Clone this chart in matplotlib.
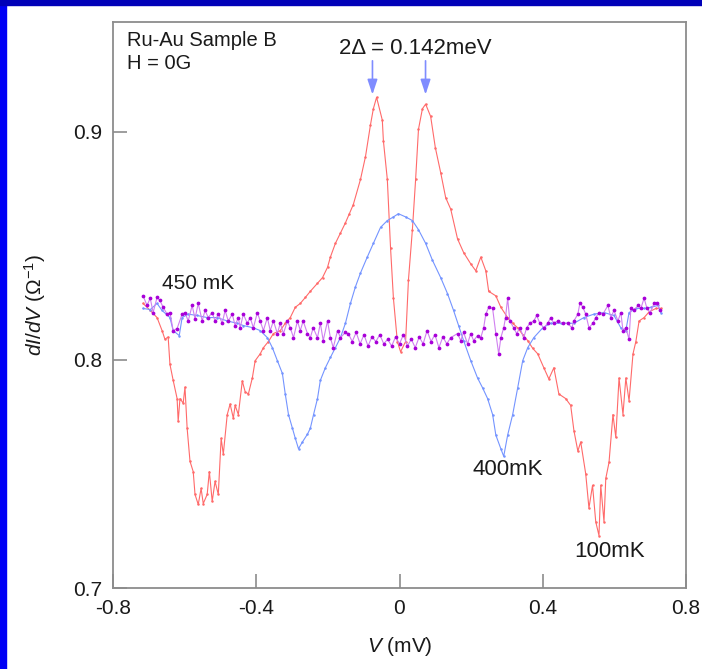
import matplotlib
matplotlib.use('Agg')
import matplotlib.pyplot as plt
from matplotlib.patches import Rectangle

plt.rcParams['font.family'] = ['Liberation Sans', 'DejaVu Sans']
plt.rcParams['mathtext.fontset'] = 'custom'
plt.rcParams['mathtext.rm'] = 'Liberation Sans'
plt.rcParams['mathtext.it'] = 'Liberation Sans:italic'

# 100 mK trace (red)
red_v = [-0.716, -0.696, -0.677, -0.663, -0.655, -0.646, -0.641, -0.632, -0.621, -0.618,
         -0.613, -0.604, -0.599, -0.593, -0.585, -0.576, -0.571, -0.562, -0.554, -0.548,
         -0.537, -0.531, -0.523, -0.515, -0.506, -0.498, -0.492, -0.481, -0.473, -0.464,
         -0.459, -0.450, -0.439, -0.431, -0.422, -0.411, -0.403, -0.389, -0.380, -0.366,
         -0.352, -0.333, -0.319, -0.305, -0.291, -0.277, -0.263, -0.249, -0.229, -0.215,
         -0.201, -0.193, -0.179, -0.165, -0.151, -0.140, -0.129, -0.109, -0.095, -0.081,
         -0.073, -0.064, -0.048, -0.045, -0.034, -0.025, -0.017, -0.006, 0.003, 0.017,
         0.025, 0.036, 0.045, 0.053, 0.064, 0.073, 0.087, 0.100, 0.115, 0.129,
         0.143, 0.162, 0.179, 0.199, 0.213, 0.227, 0.241, 0.249, 0.269, 0.283,
         0.302, 0.316, 0.330, 0.344, 0.358, 0.372, 0.386, 0.403, 0.417, 0.431,
         0.445, 0.464, 0.478, 0.487, 0.498, 0.506, 0.520, 0.529, 0.539, 0.548,
         0.557, 0.562, 0.571, 0.576, 0.585, 0.596, 0.604, 0.613, 0.624, 0.632,
         0.641, 0.652, 0.660, 0.669, 0.683, 0.697, 0.716, 0.730]
red_g = [0.8247, 0.8216, 0.8185, 0.8128, 0.809, 0.810, 0.798, 0.791, 0.783, 0.773,
         0.783, 0.781, 0.788, 0.770, 0.7555, 0.751, 0.741, 0.7366, 0.7436, 0.737,
         0.741, 0.751, 0.738, 0.7467, 0.741, 0.7656, 0.7586, 0.776, 0.7806, 0.7744,
         0.780, 0.776, 0.7907, 0.786, 0.785, 0.792, 0.7996, 0.8026, 0.8053, 0.808,
         0.8115, 0.8128, 0.816, 0.8185, 0.823, 0.8247, 0.8273, 0.830, 0.8335, 0.836,
         0.8405, 0.845, 0.851, 0.8555, 0.860, 0.864, 0.868, 0.879, 0.889, 0.903,
         0.910, 0.915, 0.905, 0.896, 0.879, 0.849, 0.827, 0.808, 0.8035, 0.808,
         0.835, 0.857, 0.879, 0.901, 0.910, 0.912, 0.9066, 0.893, 0.882, 0.871,
         0.866, 0.853, 0.847, 0.842, 0.839, 0.845, 0.839, 0.830, 0.828, 0.823,
         0.8185, 0.816, 0.814, 0.811, 0.8084, 0.805, 0.8026, 0.7965, 0.7916, 0.7965,
         0.785, 0.783, 0.780, 0.769, 0.760, 0.764, 0.750, 0.735, 0.745, 0.729,
         0.723, 0.745, 0.729, 0.748, 0.755, 0.776, 0.766, 0.792, 0.776, 0.792,
         0.782, 0.8026, 0.808, 0.817, 0.8185, 0.821, 0.8225, 0.8225]

# 400 mK trace (blue)
blue_v = [-0.716, -0.696, -0.677, -0.663, -0.641, -0.632, -0.615, -0.607, -0.590, -0.565,
          -0.537, -0.509, -0.481, -0.453, -0.436, -0.408, -0.389, -0.369, -0.355, -0.341,
          -0.327, -0.319, -0.310, -0.299, -0.291, -0.282, -0.271, -0.257, -0.249, -0.240,
          -0.229, -0.221, -0.207, -0.193, -0.179, -0.165, -0.151, -0.137, -0.123, -0.109,
          -0.090, -0.073, -0.053, -0.034, -0.017, -0.003, 0.017, 0.036, 0.053, 0.073,
          0.092, 0.115, 0.134, 0.151, 0.165, 0.179, 0.199, 0.218, 0.232, 0.246,
          0.260, 0.269, 0.283, 0.291, 0.302, 0.316, 0.330, 0.344, 0.358, 0.375,
          0.400, 0.422, 0.450, 0.487, 0.515, 0.543, 0.571, 0.599, 0.618, 0.632,
          0.641, 0.660, 0.683, 0.702, 0.722, 0.730]
blue_g = [0.8225, 0.822, 0.8247, 0.8216, 0.8185, 0.8128, 0.8106, 0.8185, 0.820, 0.8194,
          0.8185, 0.8185, 0.817, 0.816, 0.815, 0.814, 0.8128, 0.8097, 0.8053, 0.7996,
          0.794, 0.785, 0.776, 0.770, 0.7656, 0.761, 0.764, 0.7674, 0.770, 0.776,
          0.783, 0.791, 0.7965, 0.801, 0.8053, 0.8097, 0.816, 0.8247, 0.832, 0.838,
          0.845, 0.851, 0.858, 0.861, 0.8626, 0.864, 0.8626, 0.861, 0.857, 0.851,
          0.8436, 0.836, 0.829, 0.8216, 0.815, 0.8084, 0.7996, 0.792, 0.7877, 0.783,
          0.776, 0.767, 0.761, 0.7577, 0.767, 0.776, 0.7877, 0.7996, 0.8053, 0.8097,
          0.814, 0.816, 0.816, 0.816, 0.8185, 0.820, 0.8207, 0.8194, 0.814, 0.8128,
          0.8207, 0.8225, 0.8225, 0.823, 0.8238, 0.8207]

# 450 mK trace (purple)
purple_v = [-0.716, -0.705, -0.696, -0.688, -0.677, -0.669, -0.660, -0.649, -0.641, -0.632,
            -0.621, -0.607, -0.599, -0.590, -0.579, -0.571, -0.562, -0.551, -0.543, -0.534,
            -0.523, -0.515, -0.506, -0.495, -0.487, -0.478, -0.467, -0.459, -0.450, -0.445,
            -0.436, -0.425, -0.417, -0.408, -0.397, -0.389, -0.380, -0.369, -0.361, -0.352,
            -0.341, -0.333, -0.324, -0.313, -0.305, -0.296, -0.285, -0.277, -0.269, -0.257,
            -0.249, -0.241, -0.229, -0.221, -0.213, -0.201, -0.193, -0.185, -0.173, -0.165,
            -0.151, -0.143, -0.132, -0.121, -0.110, -0.099, -0.088, -0.077, -0.066, -0.055,
            -0.044, -0.033, -0.022, -0.011, 0.000, 0.011, 0.022, 0.033, 0.044, 0.055,
            0.066, 0.077, 0.088, 0.099, 0.110, 0.121, 0.132, 0.143, 0.162, 0.171,
            0.179, 0.190, 0.199, 0.207, 0.218, 0.227, 0.235, 0.241, 0.249, 0.260,
            0.269, 0.277, 0.283, 0.291, 0.296, 0.302, 0.308, 0.319, 0.327, 0.336,
            0.347, 0.355, 0.364, 0.375, 0.383, 0.392, 0.403, 0.414, 0.422, 0.431,
            0.442, 0.456, 0.470, 0.481, 0.487, 0.498, 0.504, 0.512, 0.520, 0.529,
            0.540, 0.548, 0.557, 0.568, 0.582, 0.590, 0.599, 0.610, 0.618, 0.624,
            0.632, 0.641, 0.646, 0.655, 0.666, 0.674, 0.683, 0.691, 0.700, 0.711,
            0.719, 0.727]
purple_g = [0.828, 0.8238, 0.827, 0.8207, 0.8273, 0.826, 0.823, 0.820, 0.8207, 0.8128,
            0.8137, 0.820, 0.8207, 0.817, 0.8238, 0.818, 0.8247, 0.817, 0.8216, 0.8185,
            0.8207, 0.817, 0.820, 0.816, 0.8216, 0.817, 0.820, 0.815, 0.8185, 0.814,
            0.820, 0.816, 0.8185, 0.814, 0.8207, 0.817, 0.8128, 0.8185, 0.8128, 0.817,
            0.8115, 0.816, 0.8115, 0.817, 0.814, 0.8097, 0.817, 0.8128, 0.817, 0.8115,
            0.8097, 0.814, 0.8097, 0.816, 0.8084, 0.817, 0.8097, 0.8053, 0.8128, 0.8097,
            0.812, 0.8115, 0.808, 0.812, 0.807, 0.811, 0.806, 0.810, 0.808, 0.811,
            0.807, 0.809, 0.806, 0.810, 0.807, 0.811, 0.806, 0.809, 0.8053, 0.810,
            0.807, 0.8128, 0.808, 0.811, 0.8053, 0.810, 0.807, 0.8097, 0.8115, 0.8084,
            0.812, 0.807, 0.8115, 0.8084, 0.8106, 0.8097, 0.814, 0.820, 0.823, 0.8225,
            0.8115, 0.8026, 0.8097, 0.814, 0.8185, 0.827, 0.817, 0.814, 0.8115, 0.814,
            0.8097, 0.814, 0.816, 0.817, 0.8194, 0.816, 0.814, 0.816, 0.8185, 0.816,
            0.817, 0.816, 0.816, 0.814, 0.817, 0.820, 0.825, 0.823, 0.820, 0.814,
            0.816, 0.8185, 0.8207, 0.820, 0.8238, 0.8185, 0.8216, 0.817, 0.8207, 0.8128,
            0.814, 0.809, 0.8225, 0.8216, 0.8238, 0.8225, 0.827, 0.8225, 0.8207, 0.8247,
            0.825, 0.8216]

gap_x = [-0.0755, 0.0727]

fig = plt.figure(figsize=(7.02, 6.69), dpi=100, facecolor='white')
# slide border
fig.patches.append(Rectangle((0, 0), 6 / 702, 1, transform=fig.transFigure,
                             color='#0000f5', zorder=0))
fig.patches.append(Rectangle((0, 1 - 5 / 669), 1, 5 / 669, transform=fig.transFigure,
                             color='#0000b8', zorder=0))

ax = fig.add_axes([113 / 702, 1 - 588 / 669, (686 - 113) / 702, (588 - 22) / 669])

ax.plot(red_v, red_g, color='#ff6a6a', lw=0.8, marker='o', ms=0.8, zorder=3)
ax.plot(blue_v, blue_g, color='#7494ff', lw=0.8, marker='o', ms=0.8, zorder=3)
ax.plot(purple_v, purple_g, color='#d080f0', lw=0.8, marker='o', ms=1.7,
        mfc='#a800d8', mec='#a800d8', zorder=4)

ax.set_xlim(-0.8, 0.8)
ax.set_ylim(0.7, 0.948)
ax.set_xticks([-0.8, -0.4, 0, 0.4, 0.8])
ax.set_xticklabels(['-0.8', '-0.4', '0', '0.4', '0.8'])
ax.set_yticks([0.7, 0.8, 0.9])
ax.set_yticklabels(['0.7', '0.8', '0.9'])
for s in ax.spines.values():
    s.set_color('#8c8c8c')
    s.set_linewidth(1.3)
ax.tick_params(direction='in', length=10, width=1.2, color='#8c8c8c',
               labelsize=15, labelcolor='#1a1a1a', pad=8)

ax.set_xlabel(r'$\mathit{V}$ (mV)', fontsize=15, color='#1a1a1a', labelpad=12)
ax.set_ylabel(r'$\mathit{dI/dV}$ ($\Omega^{-1}$)', fontsize=15, color='#1a1a1a', labelpad=18)

ax.text(-0.762, 0.9398, 'Ru-Au Sample B', fontsize=14.5, color='#1a1a1a', va='center')
ax.text(-0.762, 0.9300, 'H = 0G', fontsize=14.5, color='#1a1a1a', va='center')
ax.text(0.045, 0.9366, '2\u0394 = 0.142meV', fontsize=16, color='#1a1a1a',
        ha='center', va='center')
for gx in gap_x:
    ax.annotate('', xy=(gx, 0.915), xytext=(gx, 0.9322),
                arrowprops=dict(arrowstyle='-|>,head_width=0.3,head_length=0.9',
                                color='#7f8cff', lw=1.2))

ax.text(-0.662, 0.8335, '450 mK', fontsize=15, color='#1a1a1a', va='center')
ax.text(0.302, 0.752, '400mK', fontsize=16, color='#1a1a1a', ha='center', va='center')
ax.text(0.587, 0.716, '100mK', fontsize=16, color='#1a1a1a', ha='center', va='center')

fig.savefig('out.png', dpi=100, facecolor='white')
